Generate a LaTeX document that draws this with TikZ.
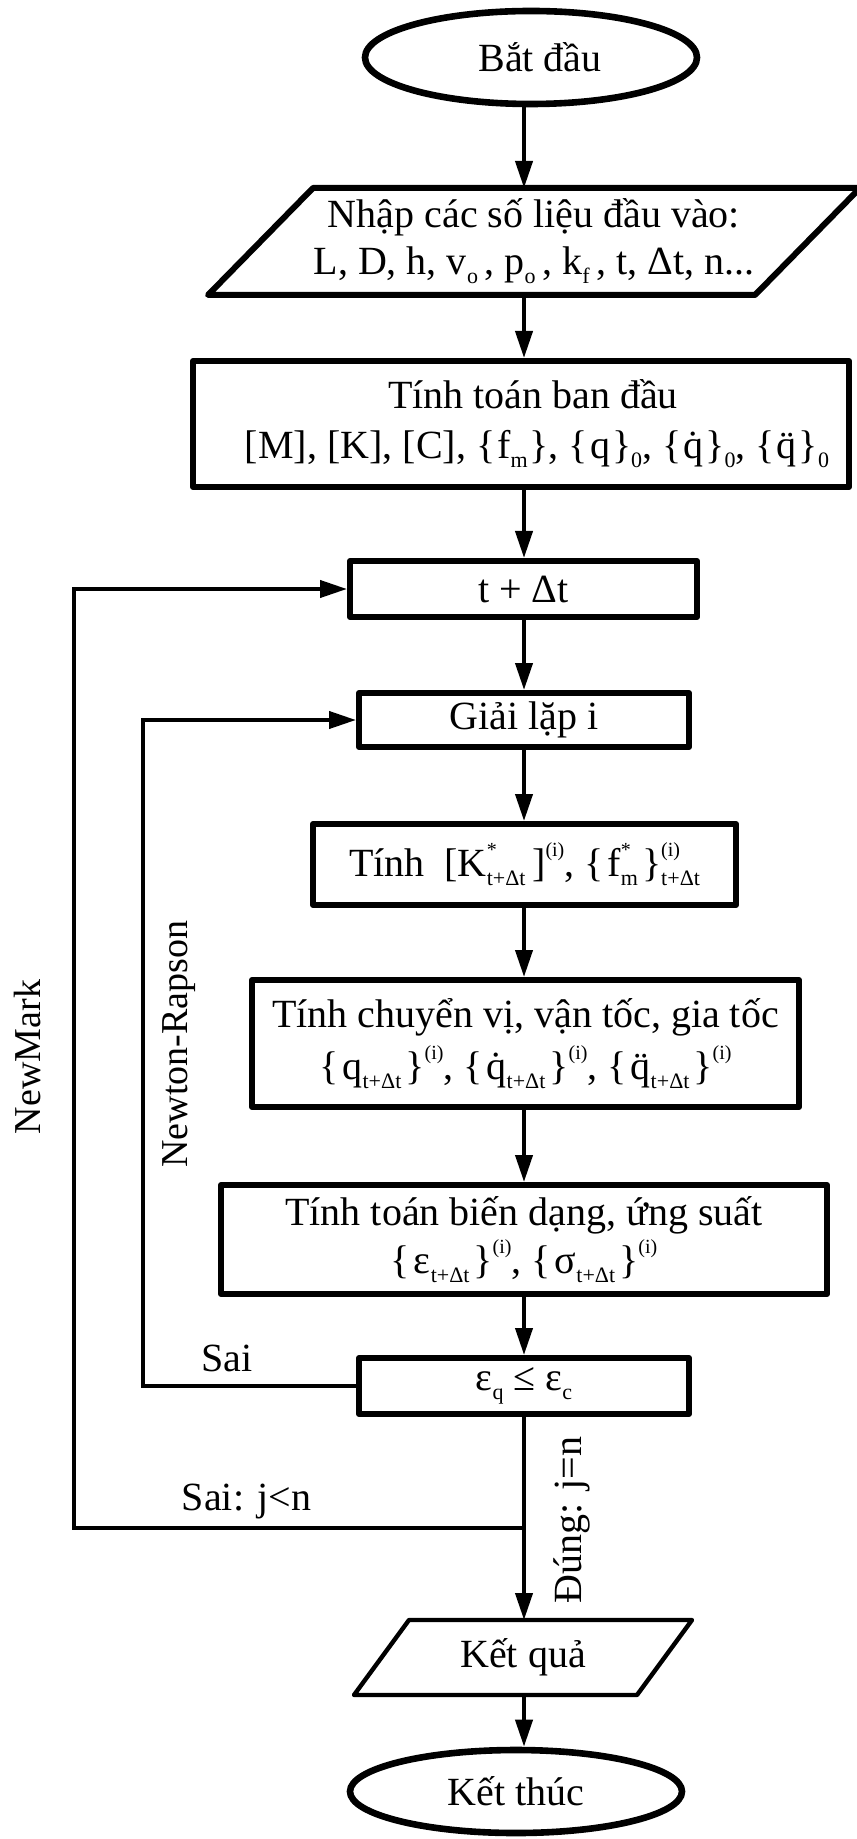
\documentclass[tikz,border=0pt]{standalone}
\usepackage{fontspec}
\setmainfont{Liberation Serif}
\usetikzlibrary{arrows.meta,shapes.geometric}
\newcommand\myfs{\fontsize{20pt}{25pt}\selectfont}
\newcommand\rotfs{\fontsize{19pt}{23pt}\selectfont}
\newcommand\lo[1]{\raisebox{-0.22em}{\fontsize{11pt}{12pt}\selectfont #1}}
\newcommand\hi[1]{\raisebox{0.5em}{\fontsize{10pt}{11pt}\selectfont #1}}
\newcommand\subsup[2]{{\setbox2\hbox{\lo{#1}}\setbox4\hbox{\hi{#2}}\ifdim\wd2>\wd4 \rlap{\box4}\box2 \else\rlap{\box2}\box4 \fi}}
\newcommand\qd{{\setbox0\hbox{q}\rlap{\hbox to\wd0{\hss\char"02D9\hss}}\box0}}
\newcommand\qdd{{\setbox0\hbox{q}\rlap{\hbox to\wd0{\hss\char"00A8\hss}}\box0}}
\newcommand\bs{\kern2pt}
\tikzset{
  term/.style={ellipse, draw, line width=3.3pt, font=\myfs, inner sep=0pt},
  box/.style={draw, line width=3pt, line join=round, align=center, font=\myfs, inner sep=0pt},
  iobox/.style={align=center, font=\myfs, inner sep=0pt, outer sep=0pt},
  ioline/.style={line width=3pt, line join=round},
  arr/.style={line width=2pt, -{Triangle[length=13.5pt,width=8.5pt]}},
  lbl/.style={font=\myfs, inner sep=0pt},
  rlbl/.style={font=\rotfs, inner sep=0pt, rotate=90}
}
\begin{document}
\begin{tikzpicture}[x=0.5pt,y=-0.5pt]
\useasboundingbox (0,0) rectangle (856,1839);
\coordinate (col) at (524,0);
\coordinate (nr) at (143,0);
\coordinate (nm) at (74,0);

% nodes
\node[term, minimum width=166pt, minimum height=46.5pt] (start) at (531,57.5) {\hspace*{9pt}Bắt đầu};

\node[iobox, minimum width=273.5pt, minimum height=53.5pt] (input) at (534,241.5)
  {Nhập các số liệu đầu vào:\\[-1.5pt]L, D, h, v\lo{o}\,, p\lo{o}\,, k\lo{f}\,, t, Δt, n...};
\draw[ioline] ([xshift=-26.25pt]input.south west) -- ([xshift=26.25pt]input.north west)
  -- ([xshift=26.25pt]input.north east) -- ([xshift=-26.25pt]input.south east) -- cycle;

\node[box, minimum width=328pt, minimum height=63pt] (init) at (521,424)
  {\hspace*{12pt}Tính toán ban đầu\\\hspace*{16pt}[M], [K], [C], \{\kern1pt f\lo{m}\kern1pt\}, \{\kern1pt q\kern1pt\}\lo{0}, \{\kern1pt\qd\kern1pt\}\lo{0}, \{\kern1pt\qdd\kern1pt\}\lo{0}};

\node[box, minimum width=173.5pt, minimum height=28pt] (step) at (523.5,589) {t + Δt};

\node[box, minimum width=165pt, minimum height=27pt] (iter) at (524,720) {Giải lặp i};

\node[box, minimum width=211.5pt, minimum height=40.5pt] (kmat) at (524.5,864.5)
  {Tính\ \ [K\subsup{t+Δt}{*}\,]\hi{(i)}, \{\bs f\subsup{m}{*}\bs\}\subsup{t+Δt}{(i)}};

\node[box, minimum width=273.5pt, minimum height=63.5pt] (disp) at (525.5,1043.5)
  {Tính chuyển vị, vận tốc, gia tốc\\[1pt]\{\bs q\lo{t+Δt}\bs\}\hi{(i)}, \{\bs\qd\lo{t+Δt}\bs\}\hi{(i)}, \{\bs\qdd\lo{t+Δt}\bs\}\hi{(i)}};

\node[box, minimum width=303pt, minimum height=54.5pt] (strain) at (524,1239.5)
  {Tính toán biến dạng, ứng suất\\[-1pt]\{\bs ε\lo{t+Δt}\bs\}\hi{(i)}, \{\bs σ\lo{t+Δt}\bs\}\hi{(i)}};

\node[box, minimum width=165pt, minimum height=28pt] (check) at (524,1386) {ε\lo{q} ≤ ε\lo{c}};

\node[iobox, minimum width=141.5pt, minimum height=37.5pt] (result) at (523,1657.5) {Kết quả};
\draw[ioline, line width=2.2pt] ([xshift=-13.75pt]result.south west) -- ([xshift=13.75pt]result.north west)
  -- ([xshift=13.75pt]result.north east) -- ([xshift=-13.75pt]result.south east) -- cycle;

\node[term, minimum width=166pt, minimum height=41.5pt] (stop) at (516,1791.5) {Kết thúc};

% labels
\node[lbl, anchor=base] (sai1) at (227,1371) {Sai};
\node[lbl, anchor=base] (sai2) at (246.5,1510) {Sai: j<n};
\node[lbl, rotate=90] (dung) at (572,1520) {Đúng: j=n};
\node[rlbl] (nmk) at (28,1057) {NewMark};
\node[rlbl] (nrp) at (179,1044) {Newton-Rapson};

% connectors
\draw[arr] (start.south -| col) -- (input.north -| col);
\draw[arr] (input.south -| col) -- (init.north -| col);
\draw[arr] (init.south -| col) -- (step.north -| col);
\draw[arr] (step.south -| col) -- (iter.north -| col);
\draw[arr] (iter.south -| col) -- (kmat.north -| col);
\draw[arr] (kmat.south -| col) -- (disp.north -| col);
\draw[arr] (disp.south -| col) -- (strain.north -| col);
\draw[arr] (strain.south -| col) -- (check.north -| col);
\draw[arr] (check.south -| col) -- (result.north -| col);
\draw[arr] (result.south -| col) -- (stop.north -| col);
\coordinate (jn) at (524,1528);
\draw[arr] (check.west) -| (nr |- iter.west) -- (iter.west);
\draw[arr] (jn) -| (nm |- step.west) -- (step.west);
\end{tikzpicture}
\end{document}
